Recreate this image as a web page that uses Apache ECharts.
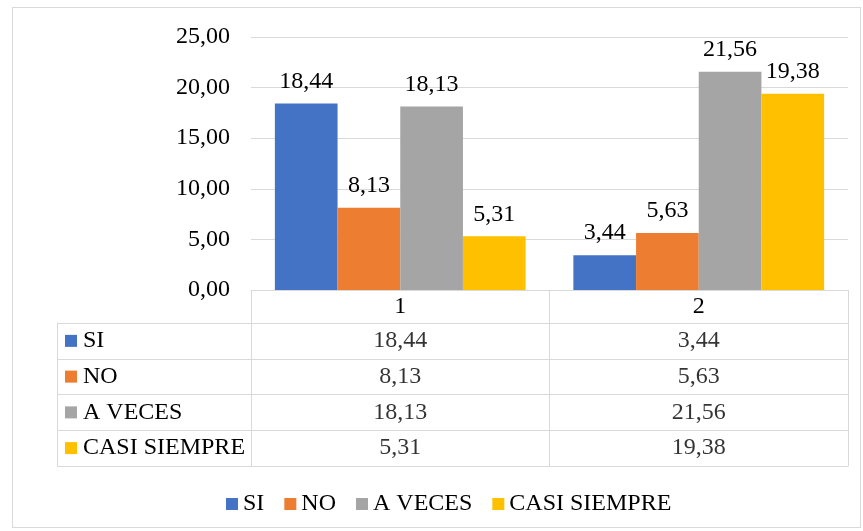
<!DOCTYPE html>
<html>
<head>
<meta charset="utf-8">
<script src="https://cdn.jsdelivr.net/npm/echarts@6/dist/echarts.min.js"></script>
<style>
  html, body { margin: 0; padding: 0; background: #fff; }
  #wrap { position: relative; width: 863px; height: 531px; }
  #chart { position: absolute; left: 0; top: 0; width: 863px; height: 531px; }
  #frame { position: absolute; left: 12px; top: 7px; width: 847px; height: 519px;
           border: 1px solid #d9d9d9; pointer-events: none; }
</style>
</head>
<body>
<div id="wrap"><div id="chart"></div><div id="frame"></div></div>
<script>
// ---- data ----
const categories = ['1', '2'];
const seriesNames = ['SI', 'NO', 'A VECES', 'CASI SIEMPRE'];
const siValues = [18.44, 3.44];
const noValues = [8.13, 5.63];
const aVecesValues = [18.13, 21.56];
const casiSiempreValues = [5.31, 19.38];
const yTicks = { min: 0, max: 25, interval: 5 };

const allValues = [siValues, noValues, aVecesValues, casiSiempreValues];
const colors = ['#4472C4', '#ED7D31', '#A5A5A5', '#FFC000'];
const FONT = "'Liberation Serif', 'Times New Roman', serif";
const FS = 24;
const GRID_C = '#d9d9d9';
const fmt = v => Number(v).toFixed(2).replace('.', ',');

const barSeries = seriesNames.map((name, i) => ({
  name, type: 'bar', xAxisIndex: 0, yAxisIndex: 0,
  data: allValues[i],
  itemStyle: { color: colors[i] },
  barGap: '0%', barCategoryGap: '16%',
  label: { show: true, position: 'top', distance: 10, color: '#000',
           fontFamily: FONT, fontSize: FS, formatter: p => fmt(p.value) }
}));

const cellData = [];
allValues.forEach((vals, r) => vals.forEach((v, c) => cellData.push([c, r, v])));

const richRow = {};
seriesNames.forEach((n, i) => {
  richRow['m' + i] = { width: 12, height: 12, backgroundColor: colors[i] };
});
richRow.t = { fontFamily: FONT, fontSize: FS, color: '#000', padding: [0, 0, 0, 6] };

const chart = echarts.init(document.getElementById('chart'), null, { renderer: 'canvas' });
chart.setOption({
  animation: false,
  backgroundColor: '#fff',
  textStyle: { fontFamily: FONT },
  grid: [
    { left: 251, right: 15, top: 37, bottom: 241 },
    { left: 251, right: 15, top: 323, bottom: 65 }
  ],
  legend: {
    data: seriesNames, left: 221, top: 487,
    icon: 'rect', itemWidth: 12, itemHeight: 12, itemGap: 20,
    textStyle: { fontFamily: FONT, fontSize: FS, color: '#000', padding: [0, 0, 0, 0] }
  },
  xAxis: [
    { type: 'category', gridIndex: 0, data: categories,
      axisLine: { show: true, lineStyle: { color: GRID_C } },
      axisTick: { show: true, length: 33, interval: 0, lineStyle: { color: GRID_C } },
      axisLabel: { margin: 5, color: '#000', fontFamily: FONT, fontSize: FS },
      splitLine: { show: false } },
    { type: 'category', gridIndex: 1, data: categories, position: 'bottom',
      axisLine: { show: true, lineStyle: { color: GRID_C } },
      axisTick: { show: false }, axisLabel: { show: false },
      splitLine: { show: true, interval: 0, lineStyle: { color: GRID_C } } },
    { type: 'category', gridIndex: 1, data: categories, position: 'top',
      axisLine: { show: true, lineStyle: { color: GRID_C } },
      axisTick: { show: false }, axisLabel: { show: false }, splitLine: { show: false } }
  ],
  yAxis: [
    { type: 'value', gridIndex: 0, min: yTicks.min, max: yTicks.max, interval: yTicks.interval,
      axisLine: { show: false }, axisTick: { show: false },
      axisLabel: { margin: 21, color: '#000', fontFamily: FONT, fontSize: FS, formatter: v => fmt(v) },
      splitLine: { show: true, lineStyle: { color: GRID_C } } },
    { type: 'category', gridIndex: 1, data: seriesNames, inverse: true,
      axisLine: { show: true, lineStyle: { color: GRID_C } },
      axisTick: { show: true, length: 194, interval: 0, lineStyle: { color: GRID_C } },
      axisLabel: { align: 'left', margin: 186, interval: 0,
        formatter: (v, i) => '{m' + i + '|}{t|' + v + '}', rich: richRow },
      splitLine: { show: true, interval: 0, lineStyle: { color: GRID_C } } },
    { type: 'category', gridIndex: 1, data: seriesNames, inverse: true, position: 'left', offset: 194,
      axisLine: { show: true, lineStyle: { color: GRID_C } },
      axisTick: { show: false }, axisLabel: { show: false }, splitLine: { show: false } }
  ],
  series: barSeries.concat([{
    type: 'scatter', xAxisIndex: 1, yAxisIndex: 1, symbolSize: 0,
    data: cellData, silent: true,
    label: { show: true, position: 'inside', color: '#000', fontFamily: FONT, fontSize: FS,
             formatter: p => fmt(p.value[2]) }
  }])
});
</script>
</body>
</html>
